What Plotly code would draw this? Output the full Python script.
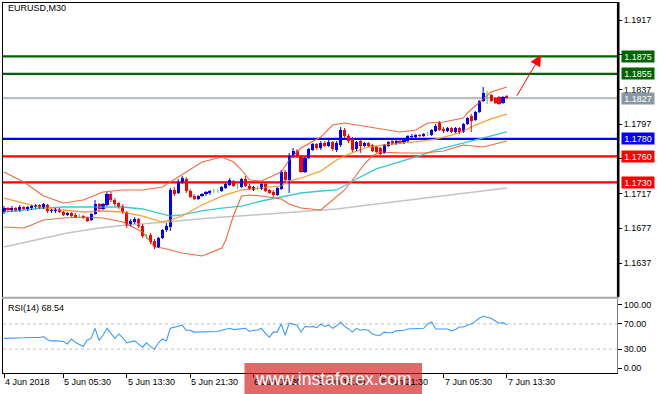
import plotly.graph_objects as go

W, H = 665, 394

# ---------------- data ----------------
bars = list(range(128))

opens = [1.16958, 1.17004, 1.16981, 1.17004, 1.16970, 1.17016, 1.16993, 1.17004, 1.17016, 1.17039,
         1.17004, 1.17039, 1.16970, 1.16970, 1.16993, 1.16958, 1.16924, 1.16947, 1.16924, 1.16912,
         1.16912, 1.16889, 1.16866, 1.16935, 1.17050, 1.16993, 1.17039, 1.17166, 1.17096, 1.17062,
         1.17027, 1.16958, 1.16808, 1.16843, 1.16878, 1.16797, 1.16682, 1.16693, 1.16624, 1.16555,
         1.16659, 1.16751, 1.16785, 1.17212, 1.17177, 1.17304, 1.17338, 1.17200, 1.17142, 1.17108,
         1.17142, 1.17166, 1.17177, 1.17200, 1.17200, 1.17200, 1.17235, 1.17269, 1.17315, 1.17258,
         1.17246, 1.17338, 1.17258, 1.17212, 1.17235, 1.17223, 1.17281, 1.17212, 1.17189, 1.17154,
         1.17223, 1.17419, 1.17327, 1.17603, 1.17661, 1.17592, 1.17419, 1.17580, 1.17672, 1.17742,
         1.17695, 1.17753, 1.17718, 1.17765, 1.17672, 1.17730, 1.17903, 1.17834, 1.17799, 1.17684,
         1.17776, 1.17718, 1.17753, 1.17730, 1.17707, 1.17695, 1.17638, 1.17718, 1.17776, 1.17742,
         1.17776, 1.17753, 1.17776, 1.17822, 1.17822, 1.17845, 1.17834, 1.17857, 1.17845, 1.17891,
         1.17983, 1.17914, 1.17891, 1.17926, 1.17880, 1.17926, 1.17880, 1.17972, 1.18064, 1.18018,
         1.18110, 1.18237, 1.18306, 1.18306, 1.18271, 1.18283, 1.18214, 1.18294]

highs = [1.17027, 1.17016, 1.17027, 1.17016, 1.17039, 1.17027, 1.17027, 1.17039, 1.17050, 1.17050,
         1.17062, 1.17050, 1.16993, 1.17004, 1.17004, 1.16970, 1.16958, 1.16958, 1.16947, 1.16935,
         1.16924, 1.16901, 1.16947, 1.17096, 1.17062, 1.17062, 1.17189, 1.17189, 1.17119, 1.17073,
         1.17050, 1.16970, 1.16878, 1.16901, 1.16889, 1.16820, 1.16705, 1.16716, 1.16647, 1.16670,
         1.16762, 1.16831, 1.17235, 1.17246, 1.17338, 1.17373, 1.17361, 1.17223, 1.17166, 1.17154,
         1.17177, 1.17200, 1.17212, 1.17223, 1.17223, 1.17258, 1.17292, 1.17350, 1.17327, 1.17281,
         1.17350, 1.17373, 1.17281, 1.17258, 1.17258, 1.17292, 1.17292, 1.17223, 1.17212, 1.17246,
         1.17442, 1.17442, 1.17638, 1.17695, 1.17684, 1.17615, 1.17592, 1.17695, 1.17753, 1.17753,
         1.17776, 1.17776, 1.17788, 1.17776, 1.17776, 1.17937, 1.17926, 1.17857, 1.17822, 1.17776,
         1.17788, 1.17765, 1.17765, 1.17742, 1.17718, 1.17707, 1.17742, 1.17776, 1.17788, 1.17788,
         1.17788, 1.17799, 1.17845, 1.17857, 1.17857, 1.17857, 1.17868, 1.17880, 1.17914, 1.17972,
         1.18006, 1.17937, 1.17937, 1.17937, 1.17937, 1.17937, 1.17983, 1.18053, 1.18087, 1.18122,
         1.18248, 1.18398, 1.18352, 1.18318, 1.18283, 1.18294, 1.18294, 1.18306]

lows = [1.16935, 1.16958, 1.16958, 1.16958, 1.16958, 1.16981, 1.16970, 1.16981, 1.16993, 1.16993,
        1.16993, 1.16947, 1.16947, 1.16947, 1.16947, 1.16912, 1.16912, 1.16901, 1.16889, 1.16889,
        1.16878, 1.16843, 1.16854, 1.16924, 1.16970, 1.16981, 1.17027, 1.17073, 1.17027, 1.16993,
        1.16935, 1.16774, 1.16797, 1.16820, 1.16774, 1.16659, 1.16647, 1.16590, 1.16532, 1.16543,
        1.16647, 1.16728, 1.16739, 1.17142, 1.17166, 1.17281, 1.17177, 1.17119, 1.17096, 1.17096,
        1.17131, 1.17142, 1.17154, 1.17177, 1.17177, 1.17189, 1.17223, 1.17258, 1.17246, 1.17223,
        1.17235, 1.17246, 1.17212, 1.17200, 1.17212, 1.17212, 1.17189, 1.17166, 1.17131, 1.17142,
        1.17212, 1.17304, 1.17177, 1.17580, 1.17580, 1.17407, 1.17407, 1.17569, 1.17661, 1.17672,
        1.17672, 1.17707, 1.17707, 1.17661, 1.17649, 1.17707, 1.17811, 1.17753, 1.17649, 1.17661,
        1.17638, 1.17707, 1.17707, 1.17649, 1.17638, 1.17615, 1.17626, 1.17707, 1.17730, 1.17730,
        1.17742, 1.17742, 1.17765, 1.17811, 1.17811, 1.17822, 1.17822, 1.17834, 1.17834, 1.17880,
        1.17891, 1.17868, 1.17880, 1.17868, 1.17868, 1.17857, 1.17868, 1.17960, 1.17880, 1.18006,
        1.18099, 1.18225, 1.18202, 1.18225, 1.18202, 1.18191, 1.18202, 1.18260]

closes = [1.17004, 1.16981, 1.17004, 1.16970, 1.17016, 1.16993, 1.17016, 1.17027, 1.17039, 1.17004,
          1.17050, 1.16970, 1.16981, 1.16993, 1.16958, 1.16924, 1.16947, 1.16912, 1.16901, 1.16912,
          1.16889, 1.16854, 1.16935, 1.17050, 1.16993, 1.17050, 1.17166, 1.17096, 1.17050, 1.17016,
          1.16958, 1.16797, 1.16854, 1.16878, 1.16797, 1.16682, 1.16682, 1.16613, 1.16555, 1.16659,
          1.16751, 1.16797, 1.17212, 1.17166, 1.17304, 1.17350, 1.17200, 1.17131, 1.17108, 1.17142,
          1.17166, 1.17189, 1.17200, 1.17200, 1.17200, 1.17246, 1.17281, 1.17327, 1.17258, 1.17258,
          1.17338, 1.17258, 1.17223, 1.17246, 1.17235, 1.17281, 1.17200, 1.17177, 1.17154, 1.17235,
          1.17419, 1.17327, 1.17603, 1.17661, 1.17592, 1.17419, 1.17580, 1.17684, 1.17742, 1.17695,
          1.17753, 1.17718, 1.17765, 1.17684, 1.17753, 1.17903, 1.17834, 1.17776, 1.17672, 1.17765,
          1.17718, 1.17753, 1.17718, 1.17661, 1.17649, 1.17626, 1.17730, 1.17765, 1.17742, 1.17776,
          1.17753, 1.17788, 1.17834, 1.17834, 1.17845, 1.17834, 1.17857, 1.17857, 1.17903, 1.17949,
          1.17903, 1.17891, 1.17926, 1.17880, 1.17926, 1.17880, 1.17972, 1.18041, 1.18006, 1.18110,
          1.18237, 1.18329, 1.18306, 1.18237, 1.18214, 1.18202, 1.18283, 1.18271]

# Bollinger upper / middle / lower, two moving averages (read at sample bars)
bb_up_bars = [0, 5, 10, 15, 20, 25, 30, 35, 40, 42, 45, 50, 55, 58, 60, 62, 65, 70, 72, 75, 80, 83, 86,
              92, 96, 100, 104, 107, 111, 114, 116, 117, 120, 123, 127]
bb_up = [1.17419, 1.17304, 1.17142, 1.17062, 1.17096, 1.17189, 1.17212, 1.17212, 1.17246, 1.17304,
         1.17384, 1.17534, 1.17592, 1.17534, 1.17442, 1.17327, 1.17315, 1.17419, 1.17557, 1.17695,
         1.17822, 1.17960, 1.17983, 1.17937, 1.17903, 1.17880, 1.17903, 1.17983, 1.17995, 1.18018,
         1.18041, 1.18099, 1.18225, 1.18341, 1.18398]

bb_lo_bars = [0, 5, 10, 15, 20, 25, 30, 35, 38, 40, 42, 45, 50, 55, 56, 58, 60, 62, 65, 70, 72, 75, 80,
              83, 86, 89, 91, 93, 95, 100, 106, 111, 116, 121, 127]
bb_lo = [1.16785, 1.16774, 1.16866, 1.16889, 1.16901, 1.16889, 1.16843, 1.16728, 1.16555, 1.16543,
         1.16520, 1.16486, 1.16451, 1.16543, 1.16636, 1.16924, 1.17142, 1.17154, 1.17142, 1.17108,
         1.17050, 1.17004, 1.16981, 1.17096, 1.17212, 1.17384, 1.17511, 1.17603, 1.17649, 1.17638,
         1.17638, 1.17661, 1.17730, 1.17707, 1.17776]

bb_mid_bars = [0, 5, 10, 15, 20, 25, 30, 35, 40, 42, 45, 50, 55, 60, 65, 70, 72, 75, 80, 84, 87, 92, 96,
               100, 104, 109, 113, 116, 119, 123, 127]
bb_mid = [1.17119, 1.17062, 1.17004, 1.16981, 1.16958, 1.16970, 1.16958, 1.16912, 1.16843, 1.16866,
          1.16912, 1.17039, 1.17142, 1.17212, 1.17235, 1.17258, 1.17315, 1.17350, 1.17430, 1.17557,
          1.17626, 1.17707, 1.17730, 1.17753, 1.17765, 1.17799, 1.17845, 1.17891, 1.17960, 1.18030,
          1.18087]

ma_fast_bars = [0, 5, 10, 15, 20, 25, 30, 35, 40, 42, 45, 50, 55, 60, 65, 70, 75, 80, 84, 89, 94, 99,
                104, 109, 114, 119, 123, 127]
ma_fast = [1.16958, 1.16981, 1.17004, 1.17016, 1.17016, 1.17016, 1.17016, 1.16993, 1.16935, 1.16912,
           1.16924, 1.16970, 1.17004, 1.17027, 1.17085, 1.17131, 1.17177, 1.17200, 1.17212, 1.17338,
           1.17454, 1.17523, 1.17592, 1.17672, 1.17730, 1.17788, 1.17834, 1.17880]

ma_slow_bars = [0, 8, 16, 24, 31, 41, 52, 63, 74, 84, 92, 100, 109, 118, 127]
ma_slow = [1.16555, 1.16636, 1.16716, 1.16774, 1.16808, 1.16843, 1.16889, 1.16924, 1.16958, 1.16993,
           1.17039, 1.17085, 1.17131, 1.17189, 1.17235]

rsi = [47, 47, 47, 47.5, 47, 48, 48.5, 48, 48.5, 48.5,
       50, 45, 43, 43, 42, 42, 38, 46, 41, 38,
       34, 44, 47, 63, 44, 52, 63, 55, 47, 54,
       48, 40, 42, 43, 38, 33, 40, 34, 30, 40,
       46, 43, 63, 65, 66, 68, 60, 60, 57, 57,
       57, 57, 58, 58, 58, 60, 61, 63, 61, 62,
       63, 63, 58, 60, 60, 63, 55, 49, 57, 57,
       70, 52, 71, 70, 68, 57, 66, 65, 66, 64,
       70, 66, 68, 63, 67, 73, 66, 62, 57, 63,
       60, 61, 60, 54, 52, 52, 57, 56, 56, 59,
       59, 60, 62, 62, 63, 63, 63, 70, 73, 62,
       62, 62, 62, 59, 61, 65, 65, 68, 70, 74,
       79, 82, 81, 79, 75, 71, 72, 68.54]

tick_bars = [0, 15, 31, 47, 63, 79, 95, 111, 127]
tick_labels = ["4 Jun 2018", "5 Jun 05:30", "5 Jun 13:30", "5 Jun 21:30", "6 Jun 05:30",
               "6 Jun 13:30", "6 Jun 21:30", "7 Jun 05:30", "7 Jun 13:30"]
price_ticks = [1.1637, 1.1677, 1.1717, 1.1757, 1.1797, 1.1837, 1.1877, 1.1917]
rsi_ticks = [0, 30, 70, 100]
rsi_levels = [30, 70]
level_prices = [1.1875, 1.1855, 1.1827, 1.1780, 1.1760, 1.1730]
arrow_start = [129.3, 1.1828]
arrow_end = [135.6, 1.18767]
symbol_text = "EURUSD,M30"
rsi_period = 14
watermark = "www.instaforex.com"

# ---------------- styles / layout ----------------
level_line_colors = ["#006400", "#006400", "#B6BEC6", "#0000FF", "#FF0000", "#FF0000"]
level_box_colors = ["#006400", "#006400", "#8A97A4", "#0000FF", "#FF0000", "#FF0000"]
BULL, BEAR, DOJI = "#0000FF", "#FF0000", "#3CD23C"
FONT = "Liberation Sans"

def px_x(x):
    return x / W

def px_y(y):
    return 1 - y / H

PLOT_L, PLOT_R = 3, 617
MAIN_T, MAIN_B = 3, 297
RSI_T, RSI_B = 299, 373
FIRST_PX, BAR_PX = 4, 3.96
x_range = [(PLOT_L - FIRST_PX) / BAR_PX, (PLOT_R - FIRST_PX) / BAR_PX]
main_range = [1.15979, 1.19366]
rsi_range = [-7.9, 109.5]

fig = go.Figure()

# indicator lines
fig.add_trace(go.Scatter(x=ma_slow_bars, y=ma_slow, mode="lines",
                         line=dict(color="#C4C4C4", width=1.6), xaxis="x", yaxis="y"))
fig.add_trace(go.Scatter(x=ma_fast_bars, y=ma_fast, mode="lines",
                         line=dict(color="#3CC6D6", width=1.3), xaxis="x", yaxis="y"))
fig.add_trace(go.Scatter(x=bb_mid_bars, y=bb_mid, mode="lines",
                         line=dict(color="#FFA033", width=1.3), xaxis="x", yaxis="y"))
for bx, by in ((bb_up_bars, bb_up), (bb_lo_bars, bb_lo)):
    fig.add_trace(go.Scatter(x=bx, y=by, mode="lines",
                             line=dict(color="#F06A3A", width=1.1), xaxis="x", yaxis="y"))

# candle wicks
groups = {BULL: ([], []), BEAR: ([], []), DOJI: ([], [])}
colors = []
for i, o, h, l, c in zip(bars, opens, highs, lows, closes):
    col = BULL if c > o else (BEAR if c < o else DOJI)
    colors.append(col)
    gx, gy = groups[col]
    gx += [i, i, None]
    gy += [l, h, None]
for col, (gx, gy) in groups.items():
    fig.add_trace(go.Scatter(x=gx, y=gy, mode="lines", line=dict(color=col, width=1),
                             xaxis="x", yaxis="y"))

# candle bodies
min_body = 0.00010
body_h = [max(abs(c - o), min_body) for o, c in zip(opens, closes)]
body_b = [min(o, c) if abs(c - o) >= min_body else (o + c) / 2 - min_body / 2
          for o, c in zip(opens, closes)]
fig.add_trace(go.Bar(x=bars, y=body_h, base=body_b, width=0.78,
                     marker=dict(color=colors, line=dict(width=0)),
                     xaxis="x", yaxis="y"))

# RSI
fig.add_trace(go.Scatter(x=bars, y=rsi, mode="lines", line=dict(color="#3D9BFF", width=1.1),
                         xaxis="x2", yaxis="y2"))

shapes = []
for p, col in zip(level_prices, level_line_colors):
    shapes.append(dict(type="line", xref="x domain", yref="y", x0=0, x1=1, y0=p, y1=p,
                       line=dict(color=col, width=2.2), layer="below"))
for lv in rsi_levels:
    shapes.append(dict(type="line", xref="x2 domain", yref="y2", x0=0, x1=1, y0=lv, y1=lv,
                       line=dict(color="#C0C0C0", width=1, dash="3px,3px"), layer="below"))

def seg(x0, y0, x1, y1, color, width):
    return dict(type="line", xref="paper", yref="paper", x0=px_x(x0), y0=px_y(y0),
                x1=px_x(x1), y1=px_y(y1), line=dict(color=color, width=width), layer="above")

shapes += [
    seg(2, 2.5, 619, 2.5, "#000000", 1),
    seg(2.5, 2, 2.5, 373.5, "#000000", 1),
    seg(618.2, 2, 618.2, 297, "#000000", 2.6),
    seg(2, 297.8, 619, 297.8, "#A8A8A8", 2),
    seg(617.5, 299, 617.5, 373.5, "#808080", 1),
    seg(2, 373.5, 618, 373.5, "#000000", 1),
]
# watermark box
shapes.append(dict(type="rect", xref="paper", yref="paper", x0=px_x(244.5), x1=px_x(422),
                   y0=px_y(396), y1=px_y(363), fillcolor="rgba(214,32,32,0.68)",
                   line=dict(width=0), layer="above"))

annotations = []
for b, t in zip(tick_bars, tick_labels):
    annotations.append(dict(x=b, xref="x2", y=px_y(382), yref="paper", text=t, showarrow=False,
                            xanchor="left", yanchor="middle", xshift=-1,
                            font=dict(family=FONT, size=9, color="#000000")))
for p, bg in zip(level_prices, level_box_colors):
    annotations.append(dict(x=px_x(620.5), xref="paper", y=p, yref="y", text=f"{p:.4f}",
                            showarrow=False, xanchor="left", yanchor="middle",
                            bgcolor=bg, width=30, height=9, borderpad=1, align="center",
                            font=dict(family=FONT, size=9, color="#FFFFFF")))
annotations.append(dict(x=px_x(6), xref="paper", y=px_y(8.5), yref="paper", text=symbol_text,
                        showarrow=False, xanchor="left", yanchor="middle",
                        font=dict(family=FONT, size=9, color="#000000")))
annotations.append(dict(x=px_x(6), xref="paper", y=px_y(308), yref="paper",
                        text=f"RSI({rsi_period}) {rsi[-1]:.2f}", showarrow=False,
                        xanchor="left", yanchor="middle",
                        font=dict(family=FONT, size=9, color="#000000")))
annotations.append(dict(x=arrow_end[0], y=arrow_end[1], xref="x", yref="y",
                        ax=arrow_start[0], ay=arrow_start[1], axref="x", ayref="y",
                        text="", showarrow=True, arrowhead=2, arrowsize=2.2, arrowwidth=1,
                        arrowcolor="#FF0000"))
annotations.append(dict(x=px_x(333), xref="paper", y=px_y(379), yref="paper", text=watermark,
                        showarrow=False, xanchor="center", yanchor="middle",
                        font=dict(family=FONT, size=17.5, color="#FFFFFF")))

axis_common = dict(showgrid=False, zeroline=False, showline=False, fixedrange=True)
fig.update_layout(
    width=W, height=H, autosize=False,
    margin=dict(l=0, r=0, t=0, b=0, pad=0),
    paper_bgcolor="#FFFFFF", plot_bgcolor="#FFFFFF",
    showlegend=False, hovermode=False, bargap=0,
    xaxis=dict(domain=[px_x(PLOT_L), px_x(PLOT_R)], range=x_range, anchor="y",
               showticklabels=False, ticks="", **axis_common),
    xaxis2=dict(domain=[px_x(PLOT_L), px_x(PLOT_R)], range=x_range, anchor="y2",
                tickmode="array", tickvals=tick_bars, ticktext=[""] * len(tick_bars),
                ticks="outside", ticklen=4, tickcolor="#000000", tickwidth=1, **axis_common),
    yaxis=dict(domain=[px_y(MAIN_B), px_y(MAIN_T)], range=main_range, anchor="x", side="right",
               tickmode="array", tickvals=price_ticks,
               ticktext=[f"{v:.4f}" for v in price_ticks],
               ticks="outside", ticklen=4, tickcolor="#000000", tickwidth=1,
               tickfont=dict(family=FONT, size=9, color="#000000"), **axis_common),
    yaxis2=dict(domain=[px_y(RSI_B), px_y(RSI_T)], range=rsi_range, anchor="x2", side="right",
                tickmode="array", tickvals=rsi_ticks,
                ticktext=[f"{v:.2f}" for v in rsi_ticks],
                ticks="outside", ticklen=4, tickcolor="#000000", tickwidth=1,
                tickfont=dict(family=FONT, size=9, color="#000000"), **axis_common),
    shapes=shapes, annotations=annotations,
)

fig.write_html("out.html", config={"displayModeBar": False, "staticPlot": True})
